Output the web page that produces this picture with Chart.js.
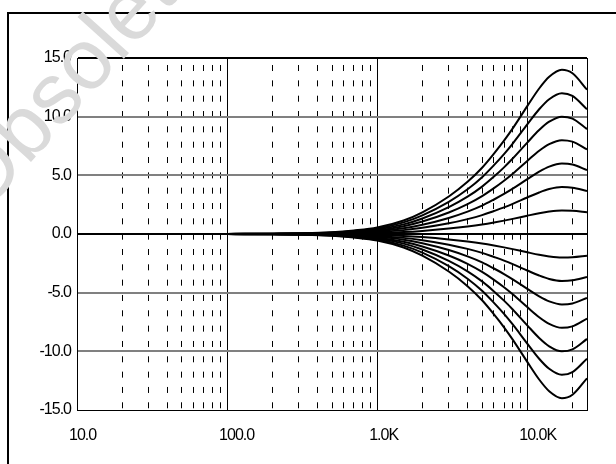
<!DOCTYPE html>
<html><head><meta charset="utf-8">
<script src="https://cdn.jsdelivr.net/npm/chart.js@4/dist/chart.umd.min.js"></script>
<style>html,body{margin:0;padding:0;background:#fff;}canvas{display:block;}</style>
</head><body>
<canvas id="c" width="616" height="464"></canvas>
<script>
// Frequencies (Hz)
const freqs = [10,20,50,100,200,300,500,700,1000,1500,2000,3000,4000,5000,6000,7000,8000,10000,12000,14000,17000,20000,25000];
// Boost curves (dB)
const boost14 = [0,0,0,0.01,0.03,0.06,0.15,0.3,0.55,1.15,1.85,3.2,4.45,5.65,6.85,7.95,9.0,10.9,12.4,13.4,14.0,13.7,12.3];
const boost12 = [0,0,0,0.01,0.03,0.05,0.13,0.26,0.47,0.99,1.59,2.74,3.81,4.84,5.87,6.81,7.71,9.34,10.63,11.49,12.0,11.77,10.63];
const boost10 = [0,0,0,0.01,0.02,0.04,0.11,0.21,0.39,0.82,1.32,2.29,3.18,4.04,4.89,5.68,6.43,7.79,8.86,9.57,10.0,9.83,8.94];
const boost8  = [0,0,0,0.01,0.02,0.03,0.09,0.17,0.31,0.66,1.06,1.83,2.54,3.23,3.91,4.54,5.14,6.23,7.09,7.66,8.0,7.87,7.21];
const boost6  = [0,0,0,0,0.01,0.03,0.06,0.13,0.24,0.49,0.79,1.37,1.91,2.42,2.94,3.41,3.86,4.67,5.31,5.74,6.0,5.92,5.45];
const boost4  = [0,0,0,0,0.01,0.02,0.04,0.09,0.16,0.33,0.53,0.91,1.27,1.61,1.96,2.27,2.57,3.11,3.54,3.83,4.0,3.95,3.67];
const boost2  = [0,0,0,0,0,0.01,0.02,0.04,0.08,0.16,0.26,0.46,0.64,0.81,0.98,1.14,1.29,1.56,1.77,1.91,2.0,1.98,1.85];
const flat0   = [0,0,0,0,0,0,0,0,0,0,0,0,0,0,0,0,0,0,0,0,0,0,0];
// Cut curves (dB)
const cut2  = [0,0,0,0,0,-0.01,-0.02,-0.04,-0.08,-0.16,-0.26,-0.46,-0.64,-0.81,-0.98,-1.14,-1.29,-1.56,-1.77,-1.91,-2.0,-1.98,-1.85];
const cut4  = [0,0,0,0,-0.01,-0.02,-0.04,-0.09,-0.16,-0.33,-0.53,-0.91,-1.27,-1.61,-1.96,-2.27,-2.57,-3.11,-3.54,-3.83,-4.0,-3.95,-3.67];
const cut6  = [0,0,0,0,-0.01,-0.03,-0.06,-0.13,-0.24,-0.49,-0.79,-1.37,-1.91,-2.42,-2.94,-3.41,-3.86,-4.67,-5.31,-5.74,-6.0,-5.92,-5.45];
const cut8  = [0,0,0,-0.01,-0.02,-0.03,-0.09,-0.17,-0.31,-0.66,-1.06,-1.83,-2.54,-3.23,-3.91,-4.54,-5.14,-6.23,-7.09,-7.66,-8.0,-7.87,-7.21];
const cut10 = [0,0,0,-0.01,-0.02,-0.04,-0.11,-0.21,-0.39,-0.82,-1.32,-2.29,-3.18,-4.04,-4.89,-5.68,-6.43,-7.79,-8.86,-9.57,-10.0,-9.83,-8.94];
const cut12 = [0,0,0,-0.01,-0.03,-0.05,-0.13,-0.26,-0.47,-0.99,-1.59,-2.74,-3.81,-4.84,-5.87,-6.81,-7.71,-9.34,-10.63,-11.49,-12.0,-11.77,-10.63];
const cut14 = [0,0,0,-0.01,-0.03,-0.06,-0.15,-0.3,-0.55,-1.15,-1.85,-3.2,-4.45,-5.65,-6.85,-7.95,-9.0,-10.9,-12.4,-13.4,-14.0,-13.7,-12.3];

// Axes
const xMin = 10, xMax = 25000;
const xTickValues = [10,100,1000,10000];
const xTickLabels = ['10.0','100.0','1.0K','10.0K'];
const xMinorValues = [20,30,40,50,60,70,80,90,200,300,400,500,600,700,800,900,2000,3000,4000,5000,6000,7000,8000,9000,20000];
const yTickValues = [-15,-10,-5,0,5,10,15];
const yTickLabels = ['-15.0','-10.0','-5.0','0.0','5.0','10.0','15.0'];
const watermarkText = 'Obsolete';

const series = [boost14,boost12,boost10,boost8,boost6,boost4,boost2,flat0,cut2,cut4,cut6,cut8,cut10,cut12,cut14];

const FONT = {family: '"Liberation Sans", Arial, sans-serif', size: 16};

const framePlugin = {
  id: 'frame',
  beforeDraw(chart) { chart.ctx.letterSpacing = '-1px'; },
  afterDraw(chart) {
    const ctx = chart.ctx;
    ctx.save();
    ctx.letterSpacing = '0px';
    ctx.fillStyle = '#000';
    ctx.fillRect(7, 12, 609, 2);
    ctx.fillRect(7, 12, 2, 452);
    ctx.translate(80, 72);
    ctx.rotate(-48 * Math.PI / 180);
    ctx.font = '86px "Liberation Sans", Arial, sans-serif';
    ctx.fillStyle = '#dadada';
    ctx.textAlign = 'center';
    ctx.textBaseline = 'middle';
    ctx.fillText(watermarkText, 0, 0);
    ctx.restore();
  }
};

new Chart(document.getElementById('c'), {
  type: 'line',
  data: {
    datasets: series.map(arr => ({
      data: freqs.map((f, i) => ({x: f, y: arr[i]})),
      borderColor: '#000',
      borderWidth: 2,
      pointRadius: 0,
      fill: false,
      cubicInterpolationMode: 'monotone'
    }))
  },
  options: {
    responsive: false,
    animation: false,
    devicePixelRatio: 1,
    layout: {padding: {top: 58, right: 29, left: 0, bottom: 0}},
    plugins: {legend: {display: false}, tooltip: {enabled: false}},
    scales: {
      x: {
        type: 'logarithmic',
        min: xMin, max: xMax,
        afterBuildTicks(scale) {
          const vals = [...xTickValues, ...xMinorValues, xMax].sort((a, b) => a - b);
          scale.ticks = vals.map(v => ({value: v}));
        },
        afterFit(scale) { scale.height = 54; },
        ticks: {
          autoSkip: false, maxRotation: 0, minRotation: 0,
          align: 'start', labelOffset: -8, padding: 16,
          color: '#000', font: FONT,
          callback(value) {
            const k = xTickValues.indexOf(value);
            return k >= 0 ? xTickLabels[k] : '';
          }
        },
        grid: {color: '#000', lineWidth: 1, drawTicks: false},
        border: {
          display: true, color: '#000', width: 1,
          dash: (c) => (c.tick && xMinorValues.includes(c.tick.value)) ? [6, 9.33] : [],
          dashOffset: 8.3
        }
      },
      y: {
        type: 'linear',
        min: -15, max: 15,
        afterBuildTicks(scale) { scale.ticks = yTickValues.map(v => ({value: v})); },
        afterFit(scale) { scale.width = 77; },
        ticks: {
          color: '#000', font: FONT, padding: 6,
          callback(value) {
            const k = yTickValues.indexOf(value);
            return k >= 0 ? yTickLabels[k] : '';
          }
        },
        grid: {
          drawTicks: false,
          color: (c) => {
            const v = c.tick ? c.tick.value : 0;
            return (v === 0 || v === 15 || v === -15) ? '#000' : '#808080';
          },
          lineWidth: (c) => {
            const v = c.tick ? c.tick.value : 0;
            return v === -15 ? 1 : 2;
          }
        },
        border: {display: true, color: '#000', width: 1}
      }
    }
  },
  plugins: [framePlugin]
});
</script>
</body></html>
